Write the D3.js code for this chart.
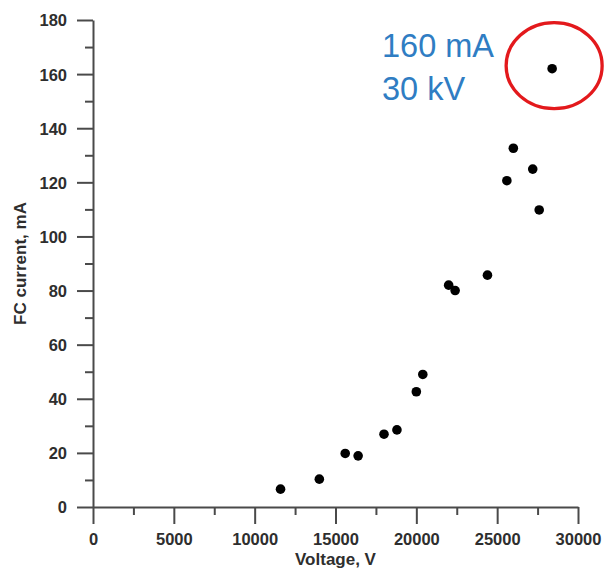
<!DOCTYPE html>
<html>
<head>
<meta charset="utf-8">
<script src="https://cdn.jsdelivr.net/npm/d3@7/dist/d3.min.js"></script>
<style>
  html, body { margin: 0; padding: 0; background: #fff; }
  svg { display: block; }
  text { font-family: Arial, "Liberation Sans", sans-serif; }
</style>
</head>
<body>
<svg id="chart" width="605" height="569"></svg>
<script>
// Data
const voltage = [11600, 14000, 15600, 16400, 18000, 18800, 20000, 20400, 22000, 22400, 24400, 25600, 26000, 27200, 27600, 28400];
const current = [6.6, 10.3, 19.8, 18.9, 26.9, 28.5, 42.6, 49.0, 82.0, 80.0, 85.7, 120.6, 132.6, 124.9, 109.8, 162.0];
const xTicks = [0, 5000, 10000, 15000, 20000, 25000, 30000];
const xMinorTicks = [2500, 7500, 12500, 17500, 22500, 27500];
const yTicks = [0, 20, 40, 60, 80, 100, 120, 140, 160, 180];
const yMinorTicks = [10, 30, 50, 70, 90, 110, 130, 150, 170];
const xTitle = "Voltage, V";
const yTitle = "FC current, mA";
const noteLines = ["160 mA", "30 kV"];
const highlightIndex = 15;

const svg = d3.select("#chart");
const x = d3.scaleLinear().domain([0, 30000]).range([93, 578]);
const y = d3.scaleLinear().domain([0, 180]).range([507, 20]);

const axisColor = "#4a4a4a";
const labelColor = "#2e2e2e";

// Minor ticks
svg.append("g").attr("transform", `translate(0,${y(0)})`)
  .call(d3.axisBottom(x).tickValues(xMinorTicks).tickSize(8).tickSizeOuter(0).tickFormat(""))
  .call(g => g.select(".domain").remove())
  .call(g => g.selectAll("line").attr("stroke", axisColor).attr("stroke-width", 2));
svg.append("g").attr("transform", `translate(${x(0)},0)`)
  .call(d3.axisLeft(y).tickValues(yMinorTicks).tickSize(8).tickSizeOuter(0).tickFormat(""))
  .call(g => g.select(".domain").remove())
  .call(g => g.selectAll("line").attr("stroke", axisColor).attr("stroke-width", 2));

// Major axes
const xAxis = svg.append("g").attr("transform", `translate(0,${y(0)})`)
  .call(d3.axisBottom(x).tickValues(xTicks).tickSize(17).tickSizeOuter(0).tickPadding(9).tickFormat(d3.format("d")));
const yAxis = svg.append("g").attr("transform", `translate(${x(0)},0)`)
  .call(d3.axisLeft(y).tickValues(yTicks).tickSize(16).tickSizeOuter(0).tickPadding(10).tickFormat(d3.format("d")));

[xAxis, yAxis].forEach(g => {
  g.select(".domain").attr("stroke", axisColor).attr("stroke-width", 2);
  g.selectAll(".tick line").attr("stroke", axisColor).attr("stroke-width", 2);
  g.selectAll(".tick text")
    .attr("fill", labelColor)
    .style("font-size", "16.5px")
    .style("font-weight", "bold")
    .style("font-family", "Arial, 'Liberation Sans', sans-serif");
});
yAxis.selectAll(".tick text").attr("dy", "0.36em");

// Axis titles
svg.append("text")
  .attr("x", x(15000))
  .attr("y", 565)
  .attr("text-anchor", "middle")
  .attr("fill", labelColor)
  .style("font-size", "17px")
  .style("font-weight", "bold")
  .text(xTitle);

svg.append("text")
  .attr("transform", `translate(26,${y(90)}) rotate(-90)`)
  .attr("text-anchor", "middle")
  .attr("fill", labelColor)
  .style("font-size", "17px")
  .style("font-weight", "bold")
  .text(yTitle);

// Points
svg.append("g").selectAll("circle")
  .data(voltage.map((v, i) => ({ v, c: current[i] })))
  .join("circle")
  .attr("cx", d => x(d.v))
  .attr("cy", d => y(d.c))
  .attr("r", 4.8)
  .attr("fill", "#000");

// Highlight ellipse around the 30 kV point
const hx = x(voltage[highlightIndex]), hy = y(current[highlightIndex]);
svg.append("ellipse")
  .attr("cx", hx + 2)
  .attr("cy", hy - 3)
  .attr("rx", 48)
  .attr("ry", 43)
  .attr("fill", "none")
  .attr("stroke", "#E3191C")
  .attr("stroke-width", 3.3);

// Annotation text
svg.append("g").selectAll("text")
  .data(noteLines)
  .join("text")
  .attr("x", 382)
  .attr("y", (d, i) => 57 + i * 43)
  .attr("fill", "#2F7DC3")
  .style("font-size", "32.5px")
  .text(d => d);
</script>
</body>
</html>
